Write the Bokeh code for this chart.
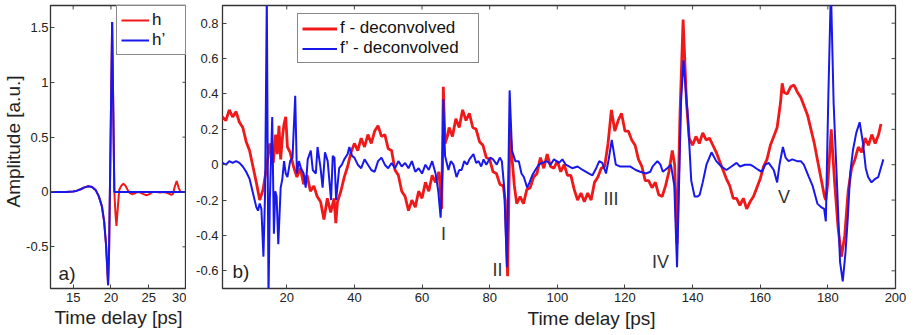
from bokeh.plotting import figure
from bokeh.layouts import row
from bokeh.models import Range1d, FixedTicker, Label, Title
from bokeh.embed import file_html
from bokeh.resources import INLINE

# ---------------- panel a) data ----------------
hp_t = [12, 13, 14, 15, 15.5, 16, 16.5, 17, 17.5, 18, 18.4, 18.8, 19.1, 19.35,
        19.5, 19.62, 19.75, 19.9, 20.05, 20.16, 20.3, 20.45, 21, 22, 24, 26, 28, 30]
hp_y = [0, 0, 0, 0.005, 0.012, 0.025, 0.042, 0.052, 0.045, 0.015, -0.04, -0.13, -0.27, -0.48,
        -0.68, -0.85, -0.55, 0.2, 1.0, 1.55, 0.8, 0.0, 0, 0, 0, 0, 0, 0]

h_t = [12, 13, 14, 15, 15.5, 16, 16.5, 17, 17.5, 18, 18.4, 18.8, 19.1, 19.35,
       19.5, 19.62, 19.75, 19.9, 20.05, 20.16, 20.3, 20.45, 20.6, 20.73, 20.9, 21.1,
       21.4, 21.65, 21.9, 22.2, 22.5, 22.8, 23.1, 23.5, 23.9, 24.3, 24.7, 25.1, 25.5,
       26, 26.5, 27, 27.5, 28.0, 28.2, 28.45, 28.7, 28.95, 29.2, 30]
h_y = [0, 0, 0, 0.005, 0.012, 0.025, 0.042, 0.052, 0.045, 0.015, -0.04, -0.13, -0.27, -0.48,
       -0.68, -0.85, -0.55, 0.2, 1.0, 1.55, 0.8, 0.0, -0.2, -0.31, -0.15, 0.02,
       0.06, 0.075, 0.06, 0.02, -0.01, -0.02, -0.015, 0.0, -0.005, -0.02, -0.03, -0.02, 0.0,
       0.0, -0.005, 0.0, -0.01, -0.025, -0.02, 0.05, 0.10, 0.04, 0.0, 0.0]

a_xticks = [15, 20, 25, 30]
a_yticks = [-0.5, 0, 0.5, 1, 1.5]
a_ylabels = ["-0.5", "0", "0.5", "1", "1.5"]

# ---------------- panel b) data ----------------
f_t = [0, 1, 2, 3, 4, 5, 6, 7, 8, 9,
       10, 11, 12, 13, 14, 15, 16, 16.7, 17.2, 17.7,
       18.2, 18.7, 19.2, 19.7, 20.2, 21, 22, 23, 24, 25,
       26, 27, 28, 29, 30, 31, 32, 33, 34, 34.5,
       35, 36, 37, 38, 39, 40, 41, 42, 43, 44,
       45, 46, 47, 48, 49, 50, 51, 52, 53, 54,
       55, 56, 57, 58, 59, 60, 61, 62, 63, 64,
       65, 65.8, 66.3, 66.8, 67.5, 68, 69, 70, 71, 72,
       73, 74, 75, 76, 77, 78, 79, 80, 81, 82,
       83, 84, 84.6, 85.3, 86.0, 86.6, 87.3, 88, 89, 90,
       91, 92, 93, 94, 95, 96, 97, 98, 99, 100,
       101, 102, 103, 104, 105, 106, 107, 108, 109, 110,
       111, 112, 113, 114, 115, 116, 117, 118, 119, 120,
       121, 122, 123, 124, 125, 126, 127, 128, 129, 130,
       131, 132, 133, 134, 134.7, 135.4, 136.3, 137.2, 138.2, 139,
       140, 141, 142, 143, 144, 145, 146, 147, 148, 149,
       150, 151, 152, 153, 154, 155, 156, 157, 158, 159,
       160, 161, 162, 163, 164, 165, 166, 166.5, 167, 168,
       169, 170, 171, 172, 173, 174, 175, 176, 177, 178,
       179, 179.4, 180, 181, 182, 183, 184, 185, 186, 187,
       188, 189, 190, 191, 192, 193, 194, 195, 195.7]
f_y = [0.22, 0.27, 0.25, 0.31, 0.27, 0.30, 0.24, 0.21, 0.13, 0.08,
       -0.01, -0.10, -0.20, -0.14, -0.02, 0.12, 0.01, 0.17, 0.06, 0.22,
       0.03, 0.15, 0.23, 0.27, 0.10, 0.07, -0.01, -0.07, -0.02, -0.11,
       -0.06, -0.15, -0.12, -0.18, -0.21, -0.31, -0.19, -0.27, -0.19, -0.33,
       -0.21, -0.15, -0.07, -0.01, 0.07, 0.12, 0.08, 0.15, 0.10, 0.17,
       0.12, 0.19, 0.22, 0.16, 0.17, 0.09, 0.08, -0.03, -0.06, -0.15,
       -0.18, -0.26, -0.20, -0.24, -0.15, -0.19, -0.10, -0.15, -0.06, -0.10,
       -0.04, -0.25, 0.44, 0.12, 0.16, 0.21, 0.16, 0.26, 0.21, 0.31,
       0.25, 0.29, 0.21, 0.20, 0.13, 0.11, 0.04, 0.03, -0.04, -0.05,
       -0.11, -0.12, -0.20, -0.63, 0.20, 0.04, -0.12, -0.22, -0.18, -0.22,
       -0.14, -0.13, -0.07, -0.05, 0.04, -0.02, 0.06, -0.01, -0.02, 0.02,
       -0.04, 0.0, -0.06, -0.06, -0.14, -0.20, -0.16, -0.21, -0.16, -0.20,
       -0.10, -0.07, -0.02, -0.01, 0.12, 0.31, 0.19, 0.25, 0.29, 0.19,
       0.19, 0.14, 0.11, 0.03, -0.01, -0.09, -0.09, -0.13, -0.10, -0.17,
       -0.18, -0.12, -0.04, 0.08, 0.0, -0.45, 0.30, 0.82, 0.35, 0.15,
       0.11, 0.16, 0.12, 0.18, 0.14, 0.15, 0.11, 0.07, 0.02, -0.03,
       -0.08, -0.12, -0.19, -0.19, -0.23, -0.19, -0.25, -0.21, -0.18, -0.13,
       -0.08, -0.01, 0.03, 0.11, 0.16, 0.21, 0.35, 0.46, 0.41, 0.40,
       0.44, 0.45, 0.41, 0.38, 0.33, 0.28, 0.20, 0.12, 0.02, -0.08,
       -0.18, -0.20, -0.10, 0.20, -0.10, -0.35, -0.52, -0.40, -0.15, -0.02,
       0.03, 0.10, 0.07, 0.15, 0.11, 0.17, 0.12, 0.17, 0.23]

fp_t = [0, 1, 2, 3, 4, 5, 6, 7, 8, 9,
        10, 11, 11.5, 12, 12.5, 13.1, 13.6, 14.1, 14.6, 15.0,
        15.7, 16.2, 16.6, 17.0, 17.5, 18.2, 18.7, 19.2, 19.7, 20.2,
        21, 21.7, 22.5, 23.0, 23.6, 24.2, 25, 25.6, 26.2, 27.1,
        27.7, 28.6, 29.1, 30, 30.6, 31.3, 32.1, 33.1, 33.6, 34.1,
        34.6, 35.5, 36.3, 37, 38, 38.5, 39.3, 40, 41, 42,
        43, 44, 45, 46, 47, 48, 49, 50, 51, 52,
        53, 54, 55, 56, 57, 58, 59, 60, 61, 62,
        63, 64, 64.8, 65.5, 66.1, 66.3, 66.8, 67.8, 68.5, 69.3,
        70.2, 71, 71.7, 72.5, 73.3, 74, 75.2, 76, 76.7, 77.5,
        78.2, 79, 80.2, 81, 82.1, 83, 83.6, 84.3, 85.1, 85.9,
        86.6, 87.6, 88.6, 89.4, 90.1, 91.1, 91.8, 92.6, 93.5, 94.5,
        95.5, 97, 98, 99, 100.5, 101.5, 102.5, 104.4, 106, 107.5,
        109.4, 110.4, 111.5, 112.4, 113.3, 114.4, 115.2, 116.1, 117.3, 118.5,
        120.3, 121.5, 123.2, 124.5, 126.2, 127.5, 128.2, 129.6, 130.5, 131.2,
        132.5, 133.6, 134.6, 135.4, 136.6, 137.3, 138.6, 139.6, 140.6, 141.5,
        142.1, 143.0, 144.1, 145.6, 147, 148.5, 150, 151.5, 153, 154,
        155.5, 157, 158, 159.5, 160.5, 161.5, 162.5, 164, 165, 165.7,
        166.7, 167.5, 168.4, 169.5, 170.9, 172, 172.9, 174.4, 175.5, 176.9,
        178, 178.9, 179.4, 180.1, 180.9, 181.7, 182.9, 183.6, 184.4, 185.2,
        185.9, 186.6, 187.4, 188.4, 189.4, 190.4, 191.2, 191.9, 192.9, 194,
        194.9, 196.4]
fp_y = [0.0, 0.01, 0.0, 0.02, 0.01, 0.02, 0.01, -0.01, -0.04, -0.08,
        -0.16, -0.24, -0.26, -0.22, -0.25, -0.52, -0.15, 0.95, -0.75, -0.20,
        0.27, -0.39, -0.15, -0.18, -0.45, -0.13, -0.08, 0.02, -0.05, -0.07,
        0.02, 0.04, 0.39, -0.05, 0.02, -0.02, -0.05, -0.13, 0.03, 0.08,
        -0.03, -0.05, 0.10, -0.02, -0.13, 0.07, 0.02, -0.20, 0.05, 0.04,
        -0.20, -0.02, 0.0, 0.03, 0.06, 0.10, 0.05, 0.04, 0.0, -0.02,
        0.03, 0.0, -0.03, -0.04, 0.02, 0.04, 0.0, -0.02, 0.01, -0.02,
        0.02, -0.01, 0.01, -0.02, 0.02, -0.04, -0.02, -0.05, 0.0, -0.03,
        0.02, -0.05, -0.15, -0.30, 0.0, 0.37, 0.05, -0.03, 0.02, 0.0,
        -0.07, -0.03, -0.03, 0.02, 0.0, 0.03, 0.06, 0.01, 0.02, -0.01,
        0.03, 0.0, 0.04, 0.03, 0.0, 0.04, 0.02, -0.13, -0.58, 0.42,
        0.08, 0.02, 0.02, -0.05, -0.07, -0.13, -0.10, -0.06, -0.03, 0.0,
        0.01, 0.02, 0.0, 0.03, 0.01, 0.03, 0.0, -0.02, -0.01, -0.03,
        -0.05, -0.06, -0.02, 0.02, 0.01, -0.05, 0.03, 0.14, 0.0, -0.01,
        -0.01, -0.01, -0.03, -0.04, -0.05, -0.04, -0.01, 0.02, 0.0, -0.04,
        -0.02, 0.0, -0.12, -0.58, 0.36, 0.59, 0.27, -0.09, -0.18, -0.18,
        -0.17, -0.10, 0.0, 0.07, 0.02, -0.01, -0.03, -0.01, 0.01, -0.01,
        0.0, 0.0, -0.01, -0.03, -0.04, 0.0, 0.01, -0.03, -0.10, 0.0,
        0.10, 0.04, 0.02, 0.03, 0.02, 0.02, 0.0, -0.07, -0.12, -0.22,
        -0.24, -0.25, -0.32, 0.35, 1.00, 0.35, -0.20, -0.55, -0.66, -0.50,
        -0.30, -0.05, 0.08, 0.18, 0.24, 0.12, -0.02, -0.07, -0.10, -0.08,
        -0.07, 0.03]

b_xticks = [20, 40, 60, 80, 100, 120, 140, 160, 180, 200]
b_yticks = [-0.6, -0.4, -0.2, 0, 0.2, 0.4, 0.6, 0.8]
b_ylabels = ["-0.6", "-0.4", "-0.2", "0", "0.2", "0.4", "0.6", "0.8"]

events = ["I", "II", "III", "IV", "V"]
event_t = [66.35, 82.3, 115.9, 130.5, 167.0]
event_y = [-0.392, -0.595, -0.194, -0.55, -0.183]

RED = "#f01818"
BLUE = "#1818ec"
FONT = "Liberation Sans"
INK = "#222222"
TICK = "#444444"


def style(p, xticks, yticks, ylabels, fw, fh):
    p.outline_line_color = "#333333"
    p.outline_line_width = 1.3
    p.xgrid.visible = False
    p.ygrid.visible = False
    p.xaxis.ticker = FixedTicker(ticks=xticks)
    p.yaxis.ticker = FixedTicker(ticks=yticks)
    p.yaxis.major_label_overrides = dict(zip(yticks, ylabels))
    for ax in (p.xaxis[0], p.yaxis[0]):
        ax.major_tick_in = 4
        ax.major_tick_out = 0
        ax.minor_tick_in = 0
        ax.minor_tick_out = 0
        ax.axis_line_color = None
        ax.major_tick_line_color = TICK
        ax.major_label_text_font = FONT
        ax.major_label_text_font_size = "13px"
        ax.major_label_text_color = INK
        ax.major_label_standoff = 4
        ax.axis_label_text_font = FONT
        ax.axis_label_text_font_size = "19px"
        ax.axis_label_text_font_style = "normal"
        ax.axis_label_text_color = INK
    # inward ticks on the top and right edges of the box (4 px long)
    xr, yr = p.x_range, p.y_range
    ylen = 4 * (yr.end - yr.start) / fh
    xlen = 4 * (xr.end - xr.start) / fw
    p.segment(x0=xticks, x1=xticks, y0=[yr.end] * len(xticks),
              y1=[yr.end - ylen] * len(xticks), line_color=TICK, line_width=1)
    p.segment(x0=[xr.end] * len(yticks), x1=[xr.end - xlen] * len(yticks),
              y0=yticks, y1=yticks, line_color=TICK, line_width=1)


def style_legend(lg, glyph_w, label_w, h):
    lg.border_line_color = "#111111"
    lg.border_line_width = 1
    lg.background_fill_alpha = 1
    lg.label_text_font = FONT
    lg.label_text_font_size = "17px"
    lg.label_text_color = "#111111"
    lg.glyph_width = glyph_w
    lg.glyph_height = h
    lg.label_height = h
    lg.label_width = label_w
    lg.label_standoff = 3
    lg.padding = 4
    lg.spacing = 0
    lg.margin = 0


# ---------------- panel a ----------------
pa = figure(frame_width=136, frame_height=283,
            x_range=Range1d(12, 30), y_range=Range1d(-0.88, 1.70),
            output_backend="svg", toolbar_location=None,
            min_border_left=50, min_border_right=0,
            min_border_top=5, min_border_bottom=47)
pa.line(h_t, h_y, line_color=RED, line_width=2, legend_label="h")
pa.line(hp_t, hp_y, line_color=BLUE, line_width=2, legend_label="h’")
style(pa, a_xticks, a_yticks, a_ylabels, 136, 283)
pa.xaxis.axis_label = "Time delay [ps]"
pa.xaxis.axis_label_standoff = 2
pa.yaxis.major_label_standoff = 2
# y caption of panel a sits a little above the panel centre in the original
pa.add_layout(Title(text="Amplitude [a.u.]", align="left", offset=81,
                    text_font=FONT, text_font_size="19px",
                    text_font_style="normal", text_color=INK,
                    standoff=0), "left")
pa.legend.location = "top_right"
style_legend(pa.legend[0], 28, 29, 18)
pa.add_layout(Label(x=13.07, y=-0.74, text="a)", text_font=FONT,
                    text_font_size="19px", text_color=INK,
                    text_align="left", text_baseline="middle"))

# ---------------- panel b ----------------
pb = figure(frame_width=673, frame_height=283,
            x_range=Range1d(1, 200), y_range=Range1d(-0.70, 0.90),
            output_backend="svg", toolbar_location=None,
            min_border_left=36, min_border_right=20,
            min_border_top=5, min_border_bottom=47)
pb.line(f_t, f_y, line_color=RED, line_width=2.8, legend_label="f - deconvolved")
pb.line(fp_t, fp_y, line_color=BLUE, line_width=2, legend_label="f’ - deconvolved")
style(pb, b_xticks, b_yticks, b_ylabels, 673, 283)
pb.legend.location = (75, 225)
style_legend(pb.legend[0], 35, 134, 19)
for name, tx, ty in zip(events, event_t, event_y):
    pb.add_layout(Label(x=tx, y=ty, text=name, text_font=FONT,
                        text_font_size="18px", text_color="#333333",
                        text_align="center", text_baseline="middle"))
pb.add_layout(Label(x=3.96, y=-0.604, text="b)", text_font=FONT,
                    text_font_size="19px", text_color=INK,
                    text_align="left", text_baseline="middle"))
# x-axis caption of panel b sits right of the panel centre in the original
pb.add_layout(Title(text="Time delay [ps]", align="left", offset=305,
                    text_font=FONT, text_font_size="19px",
                    text_font_style="normal", text_color=INK,
                    standoff=2), "below")

layout = row(pa, pb)
open("out.html", "w").write(file_html(layout, INLINE))
